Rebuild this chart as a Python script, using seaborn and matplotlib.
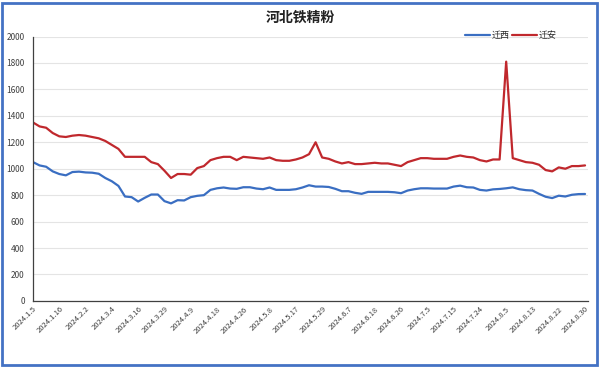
import matplotlib
matplotlib.use("Agg")
from matplotlib import pyplot as plt
import pandas as pd
import seaborn as sns

# tick labels (one every 4 points)
date_labels = ['2024.1.5', '2024.1.16', '2024.2.2', '2024.3.4', '2024.3.16', '2024.3.29',
               '2024.4.9', '2024.4.18', '2024.4.26', '2024.5.8', '2024.5.17', '2024.5.29',
               '2024.6.7', '2024.6.18', '2024.6.26', '2024.7.5', '2024.7.15', '2024.7.24',
               '2024.8.5', '2024.8.13', '2024.8.22', '2024.8.30']

qianxi = [1050, 1025, 1015, 980, 960, 950, 975, 978, 972, 970,
          962, 930, 905, 870, 790, 785, 752, 780, 805, 805,
          755, 738, 762, 760, 785, 795, 800, 840, 852, 858,
          850, 848, 860, 860, 850, 845, 858, 840, 840, 840,
          845, 858, 875, 865, 865, 862, 848, 830, 830, 818,
          810, 825, 825, 825, 825, 822, 815, 835, 845, 852,
          852, 850, 850, 850, 865, 872, 860, 858, 840, 835,
          844, 847, 852, 859, 845, 838, 835, 810, 788, 778,
          796, 790, 803, 808, 809]

qianan = [1350, 1320, 1310, 1270, 1245, 1240, 1250, 1255, 1250, 1240,
          1230, 1210, 1180, 1150, 1090, 1090, 1090, 1090, 1050, 1035,
          985, 930, 960, 960, 955, 1005, 1020, 1065, 1080, 1090,
          1090, 1065, 1090, 1085, 1080, 1075, 1085, 1065, 1060, 1060,
          1070, 1085, 1110, 1200, 1085, 1075, 1055, 1040, 1050, 1035,
          1035, 1040, 1045, 1040, 1040, 1030, 1020, 1050, 1065, 1080,
          1080, 1075, 1075, 1075, 1090, 1100, 1090, 1085, 1065, 1055,
          1070, 1070, 1810, 1080, 1065, 1050, 1045, 1030, 990, 980,
          1010, 1000, 1020, 1020, 1025]

step = 4
n = len(qianxi)
df = pd.DataFrame({
    'idx': list(range(n)) * 2,
    'price': qianxi + qianan,
    'region': ['迁西'] * n + ['迁安'] * n,
})

sns.set_style('white')
plt.rcParams['font.family'] = ['Noto Sans CJK SC', 'DejaVu Sans']

fig = plt.figure(figsize=(6, 3.67), dpi=100)
ax = fig.add_axes([0.055, 0.18, 0.925, 0.7205])

palette = {'迁西': '#3A6EC2', '迁安': '#C0282D'}
sns.lineplot(data=df, x='idx', y='price', hue='region', palette=palette,
             linewidth=1.6, ax=ax, legend=True)

ax.set_xlim(0, n - 1 + 0.45)
ax.set_ylim(0, 2000)
ax.set_yticks(range(0, 2001, 200))
ax.set_xticks(range(0, n, step))
ax.set_xticklabels(date_labels, rotation=45, ha='right', rotation_mode='anchor',
                   fontsize=5.5, color='#404040')
ax.tick_params(axis='y', labelsize=6, colors='#404040', length=0, pad=6)
ax.tick_params(axis='x', length=0, pad=3)
ax.set_xlabel('')
ax.set_ylabel('')
ax.grid(axis='y', color='#e4e4e4', linewidth=0.8)
for s in ['top', 'right']:
    ax.spines[s].set_visible(False)
ax.spines['left'].set_color('#404040')
ax.spines['bottom'].set_color('#404040')
ax.spines['left'].set_linewidth(0.9)
ax.spines['bottom'].set_linewidth(0.9)

ax.legend(loc='center right', bbox_to_anchor=(0.95, 1.005), ncol=2, frameon=False,
          fontsize=6.5, handlelength=2.8, handletextpad=0.2, columnspacing=0.2,
          borderaxespad=0)

fig.text(0.5, 0.952, '河北铁精粉', ha='center', va='center', fontsize=10,
         fontweight='bold', color='#222222')

fig.add_artist(plt.Rectangle((0.004, 0.006), 0.991, 0.987, transform=fig.transFigure,
                             fill=False, edgecolor='#4472C4', linewidth=2))

plt.savefig('out.png', dpi=100)
